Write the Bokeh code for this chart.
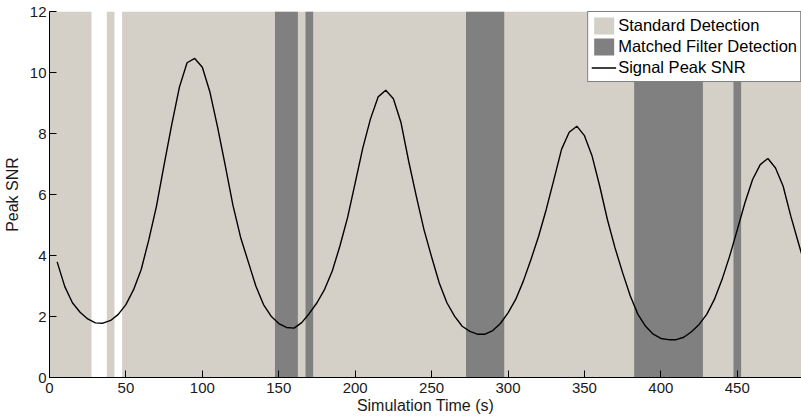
from bokeh.plotting import figure
from bokeh.models import Range1d, FixedTicker, Legend, LegendItem
from bokeh.embed import file_html
from bokeh.resources import INLINE

# ---- data ----
time_s = list(range(5, 500, 5))
peak_snr = [3.79, 2.98, 2.45, 2.14, 1.92, 1.79, 1.78, 1.87, 2.07, 2.39,
            2.88, 3.54, 4.52, 5.62, 6.98, 8.30, 9.52, 10.32, 10.46, 10.17,
            9.35, 8.20, 6.95, 5.65, 4.60, 3.80, 3.00, 2.39, 2.01, 1.77,
            1.64, 1.62, 1.80, 2.10, 2.45, 2.89, 3.49, 4.31, 5.24, 6.38,
            7.53, 8.48, 9.20, 9.42, 9.14, 8.35, 7.09, 5.94, 4.85, 3.95,
            3.10, 2.45, 2.01, 1.68, 1.51, 1.42, 1.42, 1.54, 1.77, 2.12,
            2.56, 3.16, 3.87, 4.63, 5.51, 6.49, 7.48, 8.04, 8.24, 7.93,
            7.26, 6.27, 5.18, 4.25, 3.43, 2.67, 2.07, 1.68, 1.42, 1.28,
            1.24, 1.24, 1.32, 1.50, 1.74, 2.07, 2.56, 3.21, 3.98, 4.85,
            5.73, 6.49, 6.98, 7.18, 6.87, 6.27, 5.29, 4.41, 3.55]

std_start = [0.0, 37.5, 47.5]
std_end = [27.5, 42.5, 497.5]
mf_start = [147.5, 167.5, 272.5, 382.5, 447.5]
mf_end = [162.5, 172.5, 297.5, 427.5, 452.5]

x_ticks = [0, 50, 100, 150, 200, 250, 300, 350, 400, 450]
y_ticks = [0, 2, 4, 6, 8, 10, 12]

FONT = "Liberation Sans"
LIGHT = "#d4d0c8"
DARK = "#808080"

p = figure(width=801, height=416, output_backend="svg", toolbar_location=None,
           x_range=Range1d(0, 492), y_range=Range1d(0, 12),
           min_border_left=49, min_border_right=0, min_border_top=11,
           min_border_bottom=38)
p.outline_line_color = None
p.xgrid.visible = False
p.ygrid.visible = False

r_std = p.quad(left=std_start, right=std_end, bottom=[0] * len(std_start),
               top=[12] * len(std_start), fill_color=LIGHT, line_color=None)
r_mf = p.quad(left=mf_start, right=mf_end, bottom=[0] * len(mf_start),
              top=[12] * len(mf_start), fill_color=DARK, line_color=None)
r_line = p.line(time_s, peak_snr, line_color="black", line_width=1.4)

for ax, ticks in ((p.xaxis, x_ticks), (p.yaxis, y_ticks)):
    ax.ticker = FixedTicker(ticks=ticks)
    ax.major_tick_in = 7
    ax.major_tick_out = 0
    ax.minor_tick_line_color = None
    ax.axis_line_color = "black"
    ax.major_tick_line_color = "black"
    ax.major_label_text_font = FONT
    ax.major_label_text_font_size = "15px"
    ax.major_label_text_color = "#1a1a1a"
    ax.axis_label_text_font = FONT
    ax.axis_label_text_font_size = "16px"
    ax.axis_label_text_font_style = "normal"
    ax.axis_label_text_color = "#1a1a1a"

p.xaxis.axis_label = "Simulation Time (s)"
p.yaxis.axis_label = "Peak SNR"
p.xaxis.major_label_standoff = 5
p.xaxis.axis_label_standoff = 1
p.yaxis.major_label_standoff = 3
p.yaxis.axis_label_standoff = 6

legend = Legend(items=[
    LegendItem(label="Standard Detection", renderers=[r_std]),
    LegendItem(label="Matched Filter Detection", renderers=[r_mf]),
    LegendItem(label="Signal Peak SNR", renderers=[r_line]),
], location="top_right")
legend.label_text_font = FONT
legend.label_text_font_size = "16.5px"
legend.label_text_color = "black"
legend.border_line_color = "black"
legend.border_line_width = 1
legend.background_fill_color = "white"
legend.background_fill_alpha = 1
legend.margin = 0
legend.padding = 3
legend.spacing = 0
legend.glyph_width = 25
legend.glyph_height = 21
legend.label_standoff = 2
legend.label_height = 21
p.add_layout(legend)

open("out.html", "w").write(file_html(p, INLINE))
